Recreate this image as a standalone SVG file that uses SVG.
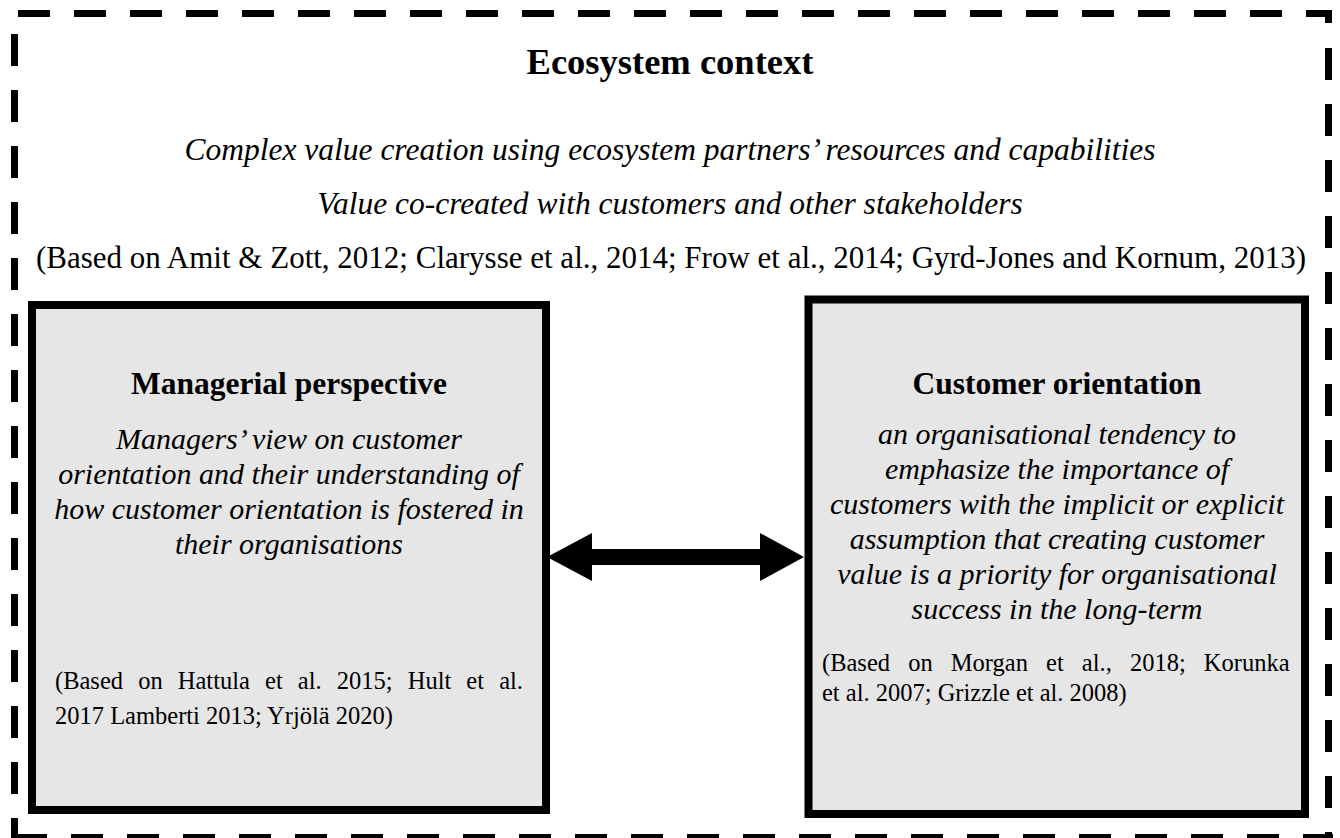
<svg xmlns="http://www.w3.org/2000/svg" width="1340" height="838" viewBox="0 0 1340 838">
  <style>
    text { font-family: "Liberation Serif", "Times New Roman", serif; fill: #000; }
    .title { font-size: 36.5px; font-weight: bold; text-anchor: middle; }
    .sub { font-size: 31.5px; font-style: italic; text-anchor: middle; }
    .ref { font-size: 31px; text-anchor: middle; }
    .head { font-size: 31.5px; font-weight: bold; text-anchor: middle; }
    .desc { font-size: 30px; font-style: italic; text-anchor: middle; }
    .cite { font-size: 24.5px; }
    .frame { fill: none; stroke: #000; stroke-width: 7; stroke-dasharray: 32 24; }
    .box { fill: #e6e6e6; stroke: #000; stroke-width: 8; }
  </style>

  <!-- dashed ecosystem boundary, one stroke per side -->
  <g id="ecosystem-frame">
    <path class="frame" d="M18 13.5 H1328.5 V23"/>
    <path class="frame" d="M1328.5 48 V838"/>
    <path class="frame" d="M14.5 34 V838"/>
    <path class="frame" d="M15 837.5 H1333"/>
  </g>

  <g id="ecosystem-context">
    <text class="title" x="670" y="74">Ecosystem context</text>
    <text class="sub" x="670" y="160">Complex value creation using ecosystem partners’ resources and capabilities</text>
    <text class="sub" x="670" y="214">Value co-created with customers and other stakeholders</text>
    <text class="ref" x="671" y="268">(Based on Amit &amp; Zott, 2012; Clarysse et al., 2014; Frow et al., 2014; Gyrd-Jones and Kornum, 2013)</text>
  </g>

  <g id="managerial-perspective">
    <rect class="box" x="32" y="305" width="514" height="505"/>
    <text class="head" x="289" y="394">Managerial perspective</text>
    <text class="desc" x="289" y="449">Managers’ view on customer</text>
    <text class="desc" x="289" y="484">orientation and their understanding of</text>
    <text class="desc" x="289" y="519">how customer orientation is fostered in</text>
    <text class="desc" x="289" y="554">their organisations</text>
    <text class="cite" x="55" y="689" word-spacing="9">(Based on Hattula et al. 2015; Hult et al.</text>
    <text class="cite" x="55" y="724">2017 Lamberti 2013; Yrjölä 2020)</text>
  </g>

  <g id="customer-orientation">
    <rect class="box" x="808.5" y="299.5" width="496.5" height="514.5"/>
    <text class="head" x="1057" y="394">Customer orientation</text>
    <text class="desc" x="1057" y="444">an organisational tendency to</text>
    <text class="desc" x="1057" y="479">emphasize the importance of</text>
    <text class="desc" x="1057" y="514">customers with the implicit or explicit</text>
    <text class="desc" x="1057" y="549">assumption that creating customer</text>
    <text class="desc" x="1057" y="584">value is a priority for organisational</text>
    <text class="desc" x="1057" y="619">success in the long-term</text>
    <text class="cite" x="822" y="671" word-spacing="12">(Based on Morgan et al., 2018; Korunka</text>
    <text class="cite" x="822" y="701">et al. 2007; Grizzle et al. 2008)</text>
  </g>

  <!-- two-way relation between the perspectives -->
  <g id="connectors">
    <polygon points="547,557 592,533 592,549 760,549 760,533 804,557 760,581 760,565 592,565 592,581" fill="#000"/>
  </g>
</svg>
